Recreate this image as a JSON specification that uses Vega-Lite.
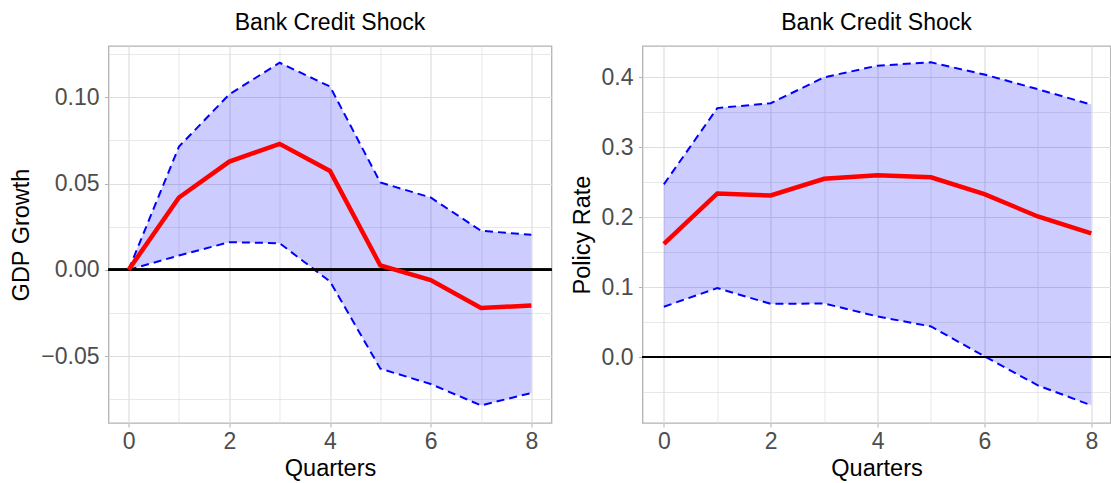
{
  "$schema": "https://vega.github.io/schema/vega-lite/v6.json",
  "padding": {"left": 8.5, "top": 11, "right": 0, "bottom": 0},
  "spacing": 15,
  "datasets": {
    "gdp": [
      {"q": 0, "mean": 0.0, "lo": 0.0, "hi": 0.0},
      {"q": 1, "mean": 0.0419, "lo": 0.0083, "hi": 0.0714},
      {"q": 2, "mean": 0.0627, "lo": 0.016, "hi": 0.1017},
      {"q": 3, "mean": 0.073, "lo": 0.0154, "hi": 0.12},
      {"q": 4, "mean": 0.0573, "lo": -0.0068, "hi": 0.1062},
      {"q": 5, "mean": 0.0025, "lo": -0.0573, "hi": 0.0506},
      {"q": 6, "mean": -0.006, "lo": -0.0662, "hi": 0.0419},
      {"q": 7, "mean": -0.0222, "lo": -0.0786, "hi": 0.0226},
      {"q": 8, "mean": -0.0207, "lo": -0.0714, "hi": 0.0203}
    ],
    "rate": [
      {"q": 0, "mean": 0.162, "lo": 0.072, "hi": 0.247},
      {"q": 1, "mean": 0.234, "lo": 0.0986, "hi": 0.356},
      {"q": 2, "mean": 0.231, "lo": 0.076, "hi": 0.363},
      {"q": 3, "mean": 0.255, "lo": 0.0767, "hi": 0.4},
      {"q": 4, "mean": 0.26, "lo": 0.058, "hi": 0.4167},
      {"q": 5, "mean": 0.257, "lo": 0.0438, "hi": 0.4214},
      {"q": 6, "mean": 0.233, "lo": 0.001, "hi": 0.404},
      {"q": 7, "mean": 0.201, "lo": -0.0405, "hi": 0.383},
      {"q": 8, "mean": 0.177, "lo": -0.069, "hi": 0.361}
    ]
  },
  "hconcat": [
    {
      "title": "Bank Credit Shock",
      "width": 443,
      "height": 377,
      "data": {"name": "gdp"},
      "layer": [
        {
          "mark": {"type": "area", "color": "#0000FF", "opacity": 0.2},
          "encoding": {
            "x": {"field": "q", "type": "quantitative", "title": "Quarters",
                  "scale": {"domain": [-0.4, 8.4], "nice": false, "zero": false},
                  "axis": {"values": [0, 1, 2, 3, 4, 5, 6, 7, 8],
                           "labelExpr": "datum.value % 2 == 0 ? datum.label : ''",
                           "tickOpacity": {"condition": {"test": "datum.value % 2 == 0", "value": 1}, "value": 0},
                           "gridWidth": {"condition": {"test": "datum.value % 2 == 0", "value": 1.2}, "value": 0.7}}},
            "y": {"field": "hi", "type": "quantitative", "title": "GDP Growth",
                  "scale": {"domain": [-0.0888, 0.1297], "nice": false, "zero": false},
                  "axis": {"values": [-0.075, -0.05, -0.025, 0, 0.025, 0.05, 0.075, 0.1, 0.125],
                           "format": ".2f",
                           "labelExpr": "abs(datum.value*20 - round(datum.value*20)) < 0.001 ? datum.label : ''",
                           "tickOpacity": {"condition": {"test": "abs(datum.value*20 - round(datum.value*20)) < 0.001", "value": 1}, "value": 0},
                           "gridWidth": {"condition": {"test": "abs(datum.value*20 - round(datum.value*20)) < 0.001", "value": 1.2}, "value": 0.7}}},
            "y2": {"field": "lo"}
          }
        },
        {
          "mark": {"type": "line", "color": "#0000FF", "strokeWidth": 2, "strokeDash": [8, 5]},
          "encoding": {
            "x": {"field": "q", "type": "quantitative", "title": "Quarters", "scale": {"domain": [-0.4, 8.4], "nice": false, "zero": false}},
            "y": {"field": "hi", "type": "quantitative", "title": "GDP Growth", "scale": {"domain": [-0.0888, 0.1297], "nice": false, "zero": false}}
          }
        },
        {
          "mark": {"type": "line", "color": "#0000FF", "strokeWidth": 2, "strokeDash": [8, 5]},
          "encoding": {
            "x": {"field": "q", "type": "quantitative", "title": "Quarters", "scale": {"domain": [-0.4, 8.4], "nice": false, "zero": false}},
            "y": {"field": "lo", "type": "quantitative", "title": "GDP Growth", "scale": {"domain": [-0.0888, 0.1297], "nice": false, "zero": false}}
          }
        },
        {
          "mark": {"type": "rule", "color": "black", "strokeWidth": 2},
          "encoding": {"y": {"datum": 0, "type": "quantitative"}}
        },
        {
          "mark": {"type": "line", "color": "#FF0000", "strokeWidth": 4.5},
          "encoding": {
            "x": {"field": "q", "type": "quantitative", "title": "Quarters", "scale": {"domain": [-0.4, 8.4], "nice": false, "zero": false}},
            "y": {"field": "mean", "type": "quantitative", "title": "GDP Growth", "scale": {"domain": [-0.0888, 0.1297], "nice": false, "zero": false}}
          }
        }
      ]
    },
    {
      "title": "Bank Credit Shock",
      "width": 468,
      "height": 377,
      "data": {"name": "rate"},
      "layer": [
        {
          "mark": {"type": "area", "color": "#0000FF", "opacity": 0.2},
          "encoding": {
            "x": {"field": "q", "type": "quantitative", "title": "Quarters",
                  "scale": {"domain": [-0.4, 8.36], "nice": false, "zero": false},
                  "axis": {"values": [0, 1, 2, 3, 4, 5, 6, 7, 8],
                           "labelExpr": "datum.value % 2 == 0 ? datum.label : ''",
                           "tickOpacity": {"condition": {"test": "datum.value % 2 == 0", "value": 1}, "value": 0},
                           "gridWidth": {"condition": {"test": "datum.value % 2 == 0", "value": 1.2}, "value": 0.7}}},
            "y": {"field": "hi", "type": "quantitative", "title": "Policy Rate",
                  "scale": {"domain": [-0.0943, 0.4448], "nice": false, "zero": false},
                  "axis": {"values": [-0.05, 0, 0.05, 0.1, 0.15, 0.2, 0.25, 0.3, 0.35, 0.4],
                           "format": ".1f",
                           "labelExpr": "abs(datum.value*10 - round(datum.value*10)) < 0.001 ? datum.label : ''",
                           "tickOpacity": {"condition": {"test": "abs(datum.value*10 - round(datum.value*10)) < 0.001", "value": 1}, "value": 0},
                           "gridWidth": {"condition": {"test": "abs(datum.value*10 - round(datum.value*10)) < 0.001", "value": 1.2}, "value": 0.7}}},
            "y2": {"field": "lo"}
          }
        },
        {
          "mark": {"type": "line", "color": "#0000FF", "strokeWidth": 2, "strokeDash": [8, 5]},
          "encoding": {
            "x": {"field": "q", "type": "quantitative", "title": "Quarters", "scale": {"domain": [-0.4, 8.36], "nice": false, "zero": false}},
            "y": {"field": "hi", "type": "quantitative", "title": "Policy Rate", "scale": {"domain": [-0.0943, 0.4448], "nice": false, "zero": false}}
          }
        },
        {
          "mark": {"type": "line", "color": "#0000FF", "strokeWidth": 2, "strokeDash": [8, 5]},
          "encoding": {
            "x": {"field": "q", "type": "quantitative", "title": "Quarters", "scale": {"domain": [-0.4, 8.36], "nice": false, "zero": false}},
            "y": {"field": "lo", "type": "quantitative", "title": "Policy Rate", "scale": {"domain": [-0.0943, 0.4448], "nice": false, "zero": false}}
          }
        },
        {
          "mark": {"type": "rule", "color": "black", "strokeWidth": 2},
          "encoding": {"y": {"datum": 0, "type": "quantitative"}}
        },
        {
          "mark": {"type": "line", "color": "#FF0000", "strokeWidth": 4.5},
          "encoding": {
            "x": {"field": "q", "type": "quantitative", "title": "Quarters", "scale": {"domain": [-0.4, 8.36], "nice": false, "zero": false}},
            "y": {"field": "mean", "type": "quantitative", "title": "Policy Rate", "scale": {"domain": [-0.0943, 0.4448], "nice": false, "zero": false}}
          }
        }
      ]
    }
  ],
  "config": {
    "font": "Liberation Sans",
    "view": {"stroke": "#B3B3B3", "strokeWidth": 1.3},
    "title": {"fontSize": 23, "fontWeight": "normal", "color": "black", "offset": 11, "anchor": "middle"},
    "axis": {
      "domain": false,
      "grid": true,
      "gridColor": "#DEDEDE",
      "tickColor": "#B3B3B3",
      "tickSize": 4,
      "tickWidth": 1,
      "labelColor": "#4D4D4D",
      "labelFontSize": 23,
      "labelPadding": 3.5,
      "titleFontSize": 23.5,
      "titleFontWeight": "normal",
      "titleColor": "black"
    },
    "axisX": {"titlePadding": 2.5},
    "axisY": {"titlePadding": 7, "labelPadding": 5.5}
  }
}
